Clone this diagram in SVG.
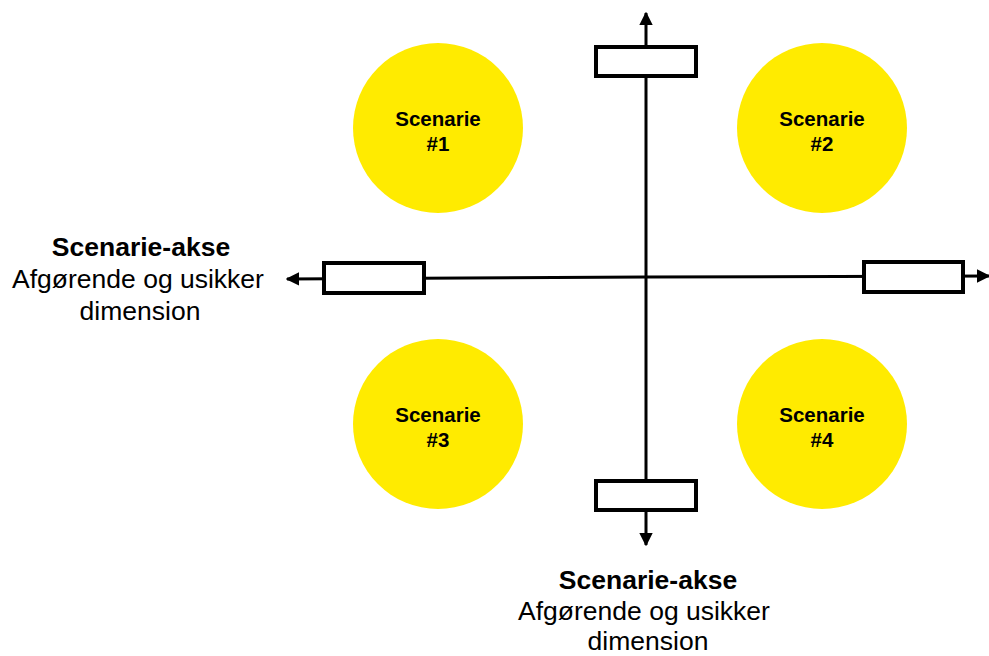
<svg xmlns="http://www.w3.org/2000/svg" width="989" height="656" viewBox="0 0 989 656">
<style>
.ax{stroke:#000;stroke-width:3;fill:none}
.box{fill:#fff;stroke:#000;stroke-width:4}
.sc{fill:#FFEB00}
.cl{font-family:"Liberation Sans",Arial,sans-serif;font-weight:bold;font-size:20.5px;text-anchor:middle;fill:#000}
.lb{font-family:"Liberation Sans",Arial,sans-serif;font-size:26.5px;text-anchor:middle;fill:#000}
.lb .b{font-weight:bold}
</style>
<defs>
<marker id="ah" viewBox="0 0 10 10" refX="9" refY="5" markerWidth="4.5" markerHeight="4.5" orient="auto" markerUnits="strokeWidth">
<path d="M0,0 L10,5 L0,10 z" fill="#000"/>
</marker>
</defs>
<g id="connectors">
<line class="ax" x1="646" y1="277" x2="646" y2="13" marker-end="url(#ah)"/>
<line class="ax" x1="646" y1="277" x2="646" y2="545" marker-end="url(#ah)"/>
<line class="ax" x1="646" y1="277" x2="287" y2="279" marker-end="url(#ah)"/>
<line class="ax" x1="646" y1="277" x2="989" y2="276" marker-end="url(#ah)"/>
</g>
<g id="box-top"><rect class="box" x="596" y="47" width="100" height="29"/></g>
<g id="box-bottom"><rect class="box" x="596" y="481" width="100" height="29"/></g>
<g id="box-left"><rect class="box" x="324" y="263" width="100" height="30"/></g>
<g id="box-right"><rect class="box" x="864" y="262" width="99" height="30"/></g>
<g id="scenario1"><circle class="sc" cx="438" cy="128" r="85"/><text class="cl" x="438" y="126">Scenarie</text><text class="cl" x="438" y="151">#1</text></g>
<g id="scenario2"><circle class="sc" cx="822" cy="128" r="85"/><text class="cl" x="822" y="126">Scenarie</text><text class="cl" x="822" y="151">#2</text></g>
<g id="scenario3"><circle class="sc" cx="438" cy="424" r="85"/><text class="cl" x="438" y="422">Scenarie</text><text class="cl" x="438" y="447">#3</text></g>
<g id="scenario4"><circle class="sc" cx="822" cy="424" r="85"/><text class="cl" x="822" y="422">Scenarie</text><text class="cl" x="822" y="447">#4</text></g>
<g id="label-left" class="lb">
<text class="b" x="141" y="256">Scenarie-akse</text>
<text x="138" y="288">Afgørende og usikker</text>
<text x="140" y="320">dimension</text>
</g>
<g id="label-bottom" class="lb">
<text class="b" x="648" y="589">Scenarie-akse</text>
<text x="644" y="620">Afgørende og usikker</text>
<text x="648" y="650">dimension</text>
</g>
</svg>
